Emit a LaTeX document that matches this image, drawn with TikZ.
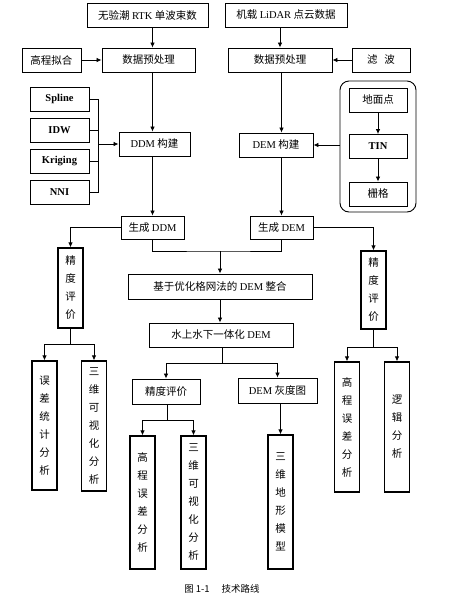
\documentclass[tikz,border=0pt]{standalone}
\usepackage{fontspec}
\setmainfont{Liberation Serif}
\newfontfamily\cjk{Noto Sans CJK SC}
\usetikzlibrary{arrows.meta}
\newcommand{\en}[1]{{\rmfamily #1}}
\tikzset{
  box/.style={draw, line width=0.9pt, inner sep=0pt, minimum height=24, font=\cjk\fontsize{10.5}{12}\selectfont},
  vbox/.style={draw, line width=1.3pt, inner sep=0pt, minimum width=25, align=center, font=\cjk\fontsize{10.5}{18}\selectfont},
  arr/.style={-{Latex[length=5pt,width=4.5pt]}, line width=0.8pt},
  link/.style={line width=0.8pt}
}

\begin{document}
\begin{tikzpicture}[x=1pt,y=-1pt]
\useasboundingbox (0,0) rectangle (451,606);
% top row
\node[box, minimum width=121] (rtk) at (147.5,15) {无验潮 \en{RTK} 单波束数};
\node[box, minimum width=122] (lidar) at (286,15) {机载 \en{LiDAR} 点云数据};
\node[box, minimum width=93] (pre1) at (148.5,60) {数据预处理};
\node[box, minimum width=59] (fit) at (51.5,60) {高程拟合};
\node[box, minimum width=104] (pre2) at (280,60) {数据预处理};
\node[box, minimum width=58] (filt) at (381,60) {滤\hspace{7pt}波};
% interpolation
\foreach \n/\y/\t in {spline/99/Spline, idw/130/IDW, krig/161/Kriging, nni/192.5/NNI}
  \node[box, minimum width=59] (\n) at (59.5,\y) {\en{\bfseries \t}};
\node[box, minimum width=71] (ddm) at (154.5,144) {\en{DDM} 构建};
\node[box, minimum width=74] (dem) at (276,145) {\en{DEM} 构建};
\node[draw, line width=0.9pt, rounded corners=9pt, minimum width=76, minimum height=131] (grp) at (378,146.5) {};
\node[box, minimum width=58] (ground) at (378,100) {地面点};
\node[box, minimum width=58] (tin) at (378,146.5) {\en{\bfseries TIN}};
\node[box, minimum width=58] (grid) at (378,194) {栅格};
% results
\node[box, minimum width=63, minimum height=23] (gddm) at (152.5,227.5) {生成 \en{DDM}};
\node[box, minimum width=63, minimum height=23] (gdem) at (281.5,227.5) {生成 \en{DEM}};
\node[box, minimum width=184, minimum height=25] (merge) at (220,286.5) {基于优化格网法的 \en{DEM} 整合};
\node[box, minimum width=144] (water) at (221,335) {水上水下一体化 \en{DEM}};
\node[box, minimum width=68, minimum height=25] (evalM) at (166,391.5) {精度评价};
\node[box, minimum width=79, minimum height=25] (gray) at (277.5,390.5) {\en{DEM} 灰度图};
\foreach \n/\x/\y/\h/\t in {evalL/70.5/288/80/{精\\度\\评\\价}, evalR/373.5/290/78/{精\\度\\评\\价},
    errL/44.5/425.5/129/{误\\差\\统\\计\\分\\析}, vizL/94/426/130/{三\\维\\可\\视\\化\\分\\析},
    errM/142.5/502.5/133/{高\\程\\误\\差\\分\\析}, vizM/193.5/502.5/133/{三\\维\\可\\视\\化\\分\\析},
    terr/280.5/502/134/{三\\维\\地\\形\\模\\型}, errR/347/427/130/{高\\程\\误\\差\\分\\析},
    logic/397/427/130/{逻\\辑\\分\\析}}
  \node[vbox, minimum height=\h] (\n) at (\x,\y) {\t};
\node[font=\cjk\fontsize{9.5}{11}\selectfont] (cap) at (222,589) {图 1-1\hspace{12pt}技术路线};
% connectors
\coordinate (brk) at (98,0);
\coordinate (j1) at (220,251);
\coordinate (j2) at (222,363);
\coordinate (j3) at (167,420);
\coordinate (j4) at (70.5,344);
\coordinate (j5) at (373.5,347);
\draw[arr] (rtk.south -| gddm) -- (pre1.north -| gddm);
\draw[arr] (pre1.south -| gddm) -- (ddm.north -| gddm);
\draw[arr] (ddm.south -| gddm) -- (gddm.north);
\draw[arr] (lidar.south -| pre2) -- (pre2.north);
\draw[arr] (pre2.south -| gdem) -- (dem.north -| gdem);
\draw[arr] (dem.south -| gdem) -- (gdem.north);
\draw[arr] (fit) -- (pre1);
\draw[arr] (filt) -- (pre2);
\foreach \n in {spline,idw,krig,nni} \draw[link] (\n.east) -- (\n.east -| brk);
\draw[link] (spline.east -| brk) -- (nni.east -| brk);
\draw[arr] (ddm.west -| brk) -- (ddm.west);
\draw[arr] (ground) -- (tin);
\draw[arr] (tin) -- (grid);
\draw[arr] (grp.west |- dem) -- (dem.east);
\draw[arr] (gddm.west) -| (evalL.north);
\draw[arr] (gdem.east) -| (evalR.north);
\draw[link] (gddm.south) |- (j1) -| (gdem.south);
\draw[arr] (j1) -- (merge.north);
\draw[arr] (merge.south) -- (water.north -| merge);
\draw[link] (water.south -| j2) -- (j2);
\draw[arr] (j2) -| (evalM.north);
\draw[arr] (j2) -| (gray.north);
\draw[link] (evalM.south -| j3) -- (j3);
\draw[arr] (j3) -| (errM.north);
\draw[arr] (j3) -| (vizM.north);
\draw[arr] (gray.south -| terr) -- (terr.north);
\draw[link] (evalL.south) -- (j4);
\draw[arr] (j4) -| (errL.north);
\draw[arr] (j4) -| (vizL.north);
\draw[link] (evalR.south) -- (j5);
\draw[arr] (j5) -| (errR.north);
\draw[arr] (j5) -| (logic.north);
\end{tikzpicture}
\end{document}
